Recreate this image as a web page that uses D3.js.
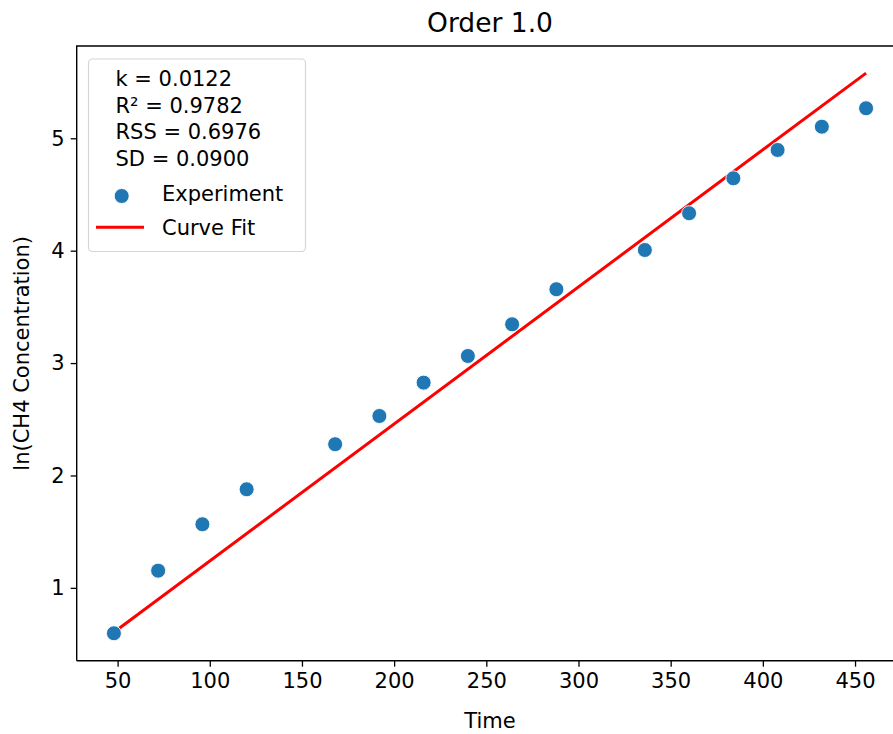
<!DOCTYPE html>
<html>
<head>
<meta charset="utf-8">
<script src="https://cdn.jsdelivr.net/npm/d3@7"></script>
<style>
  html, body { margin: 0; padding: 0; background: #fff; }
  svg text { font-family: "DejaVu Sans", sans-serif; fill: #000; }
</style>
</head>
<body>
<div id="chart"></div>
<script>
// sampled times and ln of concentration
const times = [48, 72, 96, 120, 168, 192, 216, 240, 264, 288, 336, 360, 384, 408, 432, 456];
const lnConc = [0.596, 1.153, 1.566, 1.877, 2.278, 2.529, 2.826, 3.063, 3.345, 3.657, 4.006, 4.333, 4.644, 4.896, 5.103, 5.267];

// fitted line end points
const fitTimes = [48, 456];
const fitValues = [0.605, 5.58];

const statLines = ['k = 0.0122', 'R\u00b2 = 0.9782', 'RSS = 0.6976', 'SD = 0.0900'];
const xTicks = [50, 100, 150, 200, 250, 300, 350, 400, 450];
const yTicks = [1, 2, 3, 4, 5];

const W = 893, H = 734;
const axLeft = 76.7, axTop = 46, axBottom = 660.7;

const svg = d3.select('#chart').append('svg')
  .attr('width', W).attr('height', H);

const x = d3.scaleLinear().domain([27.6, 476.4]).range([76.3, 903.7]);
const y = d3.scaleLinear().domain([0.352, 5.821]).range([axBottom, axTop]);

// fit line
svg.append('path')
  .datum(fitTimes.map((t, i) => [t, fitValues[i]]))
  .attr('d', d3.line().x(d => x(d[0])).y(d => y(d[1])))
  .attr('fill', 'none')
  .attr('stroke', '#ff0000')
  .attr('stroke-width', 3);

// points
svg.selectAll('circle.pt')
  .data(times)
  .enter()
  .append('circle')
  .attr('class', 'pt')
  .attr('cx', d => x(d))
  .attr('cy', (d, i) => y(lnConc[i]))
  .attr('r', 7.5)
  .attr('fill', '#1f77b4')
  .attr('stroke', '#fff')
  .attr('stroke-width', 0.9);

// axes
const xAxis = svg.append('g')
  .attr('transform', 'translate(0,' + axBottom + ')')
  .call(d3.axisBottom(x).tickValues(xTicks).tickSize(6).tickPadding(6).tickFormat(d3.format('d')));
const yAxis = svg.append('g')
  .attr('transform', 'translate(' + axLeft + ',0)')
  .call(d3.axisLeft(y).tickValues(yTicks).tickSize(6).tickPadding(6).tickFormat(d3.format('d')));

[xAxis, yAxis].forEach(g => {
  g.select('.domain').remove();
  g.selectAll('.tick line').attr('stroke', '#000').attr('stroke-width', 1.3);
  g.selectAll('.tick text').style('font-size', '21px').attr('fill', '#222');
});

// spines (right one falls outside the picture)
svg.append('path')
  .attr('d', 'M' + axLeft + ',' + axBottom + 'V' + axTop + 'H' + (W + 20))
  .attr('fill', 'none').attr('stroke', '#000').attr('stroke-width', 1.4);
svg.append('line')
  .attr('x1', axLeft).attr('x2', W + 20)
  .attr('y1', axBottom).attr('y2', axBottom)
  .attr('stroke', '#000').attr('stroke-width', 1.4);

// title and labels
svg.append('text')
  .attr('x', 490).attr('y', 32)
  .attr('text-anchor', 'middle')
  .style('font-size', '26.5px')
  .text('Order 1.0');

svg.append('text')
  .attr('x', 490).attr('y', 728)
  .attr('text-anchor', 'middle')
  .style('font-size', '21px')
  .text('Time');

svg.append('text')
  .attr('transform', 'translate(29,' + (axTop + axBottom) / 2 + ') rotate(-90)')
  .attr('text-anchor', 'middle')
  .style('font-size', '21px')
  .text('ln(CH4 Concentration)');

// legend
const lg = svg.append('g');
lg.append('rect')
  .attr('x', 88.5).attr('y', 59)
  .attr('width', 217).attr('height', 192.5)
  .attr('rx', 4)
  .attr('fill', 'rgba(255,255,255,0.8)')
  .attr('stroke', '#d6d6d6')
  .attr('stroke-width', 1.2);

lg.selectAll('text.stat')
  .data(statLines)
  .enter()
  .append('text')
  .attr('class', 'stat')
  .attr('x', 115.5)
  .attr('y', (d, i) => 86 + i * 26.5)
  .style('font-size', '21px')
  .text(d => d);

lg.append('circle')
  .attr('cx', 121.7).attr('cy', 196)
  .attr('r', 7.5)
  .attr('fill', '#1f77b4')
  .attr('stroke', '#fff').attr('stroke-width', 0.9);
lg.append('text')
  .attr('x', 162).attr('y', 201)
  .style('font-size', '21px')
  .text('Experiment');

lg.append('line')
  .attr('x1', 96).attr('x2', 144)
  .attr('y1', 227.3).attr('y2', 227.3)
  .attr('stroke', '#ff0000').attr('stroke-width', 3);
lg.append('text')
  .attr('x', 162).attr('y', 235)
  .style('font-size', '21px')
  .text('Curve Fit');
</script>
</body>
</html>
